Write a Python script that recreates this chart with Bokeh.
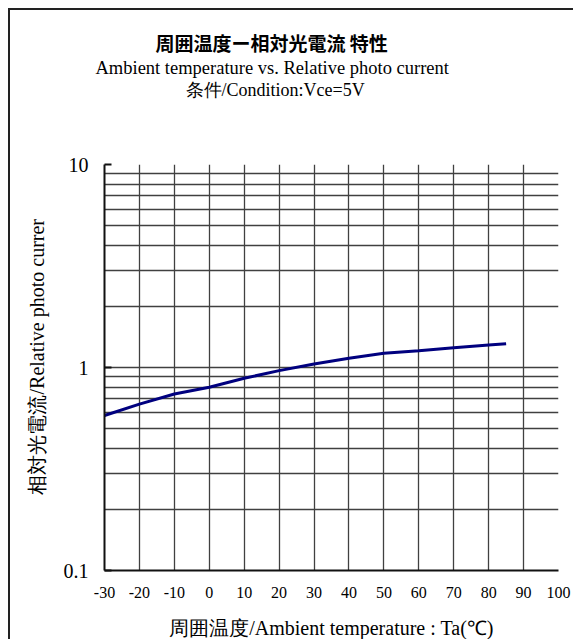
from bokeh.plotting import figure
from bokeh.models import Range1d, FixedTicker, Title
from bokeh.embed import file_html
from bokeh.resources import INLINE

# data
temperature = [-30, -20, -10, 0, 10, 20, 30, 40, 50, 60, 70, 80, 85]
relative_current = [0.58, 0.66, 0.74, 0.80, 0.885, 0.965, 1.04, 1.11, 1.175, 1.21, 1.25, 1.29, 1.31]

x_ticks = [-30, -20, -10, 0, 10, 20, 30, 40, 50, 60, 70, 80, 90, 100]
x_tick_labels = ["-30", "-20", "-10", "0", "10", "20", "30", "40", "50", "60", "70", "80", "90", "100"]
y_ticks = [0.1, 1, 10]
y_tick_labels = ["0.1", "1", "10"]
y_minor = [0.2, 0.3, 0.4, 0.5, 0.6, 0.7, 0.8, 0.9, 2, 3, 4, 5, 6, 7, 8, 9]

title_lines = [
    "周囲温度ー相対光電流 特性",
    "Ambient temperature vs. Relative photo current",
    "条件/Condition:Vce=5V",
]
x_label = "周囲温度/Ambient temperature : Ta(℃)"
y_label = "相対光電流/Relative photo currer"

p = figure(width=565, height=631, output_backend="svg", toolbar_location=None,
           title=None, y_axis_type="log",
           x_range=Range1d(-30, 100), y_range=Range1d(0.1, 10),
           min_border_left=93, min_border_right=17, min_border_top=154, min_border_bottom=70)
p.styles = {"margin-left": "8px", "margin-top": "8px",
            "border-left": "2px solid #222", "border-top": "2px solid #222"}
p.outline_line_color = None
p.background_fill_color = "white"
p.border_fill_color = "white"

p.xaxis.ticker = FixedTicker(ticks=x_ticks)
p.yaxis.ticker = FixedTicker(ticks=y_ticks, minor_ticks=y_minor)
p.xgrid.ticker = FixedTicker(ticks=x_ticks)
p.ygrid.ticker = FixedTicker(ticks=y_ticks, minor_ticks=y_minor)

for g in (p.xgrid, p.ygrid):
    g.grid_line_color = "#404040"
    g.grid_line_width = 1.3
p.ygrid.minor_grid_line_color = "#404040"
p.ygrid.minor_grid_line_width = 1.3

for ax in (p.xaxis, p.yaxis):
    ax.axis_line_color = "#111111"
    ax.axis_line_width = 2
    ax.major_tick_out = 0
    ax.major_tick_in = 0
    ax.minor_tick_out = 0
    ax.minor_tick_in = 0
    ax.major_label_text_font = "Liberation Serif"
    ax.major_label_text_color = "black"
    ax.axis_label_text_font = "Liberation Serif"
    ax.axis_label_text_font_style = "normal"
    ax.axis_label_text_color = "black"
    ax.axis_label_text_font_size = "20px"

p.yaxis.major_tick_in = 7
p.yaxis.major_tick_line_color = "#111111"
p.yaxis.major_tick_line_width = 2

p.xaxis.major_label_text_font_size = "16px"
p.xaxis.major_label_standoff = 16
p.xaxis.axis_label = x_label
p.xaxis.axis_label_standoff = 16
p.xaxis.major_label_overrides = dict(zip(x_ticks, x_tick_labels))

p.yaxis.major_label_text_font_size = "20px"
p.yaxis.major_label_standoff = 16
p.yaxis.major_label_overrides = dict(zip(y_ticks, y_tick_labels))

p.line(temperature, relative_current, line_color="#00007f", line_width=3)

# y axis title, placed as a side title so its start can be set
p.add_layout(Title(text=y_label, align="left", offset=76, standoff=26,
                   text_font="Liberation Serif", text_font_style="normal",
                   text_font_size="20px", text_color="black"), "left")

# title block: spacer closest to the plot, then the three title lines upward
p.add_layout(Title(text=" ", text_font_size="10px", standoff=52), "above")
title_specs = [
    (title_lines[2], "Liberation Serif", "normal", "18px", 81),
    (title_lines[1], "Liberation Serif", "normal", "18.5px", -9),
    (title_lines[0], "Noto Sans CJK JP", "bold", "19px", 51),
]
for txt, font, style, size, off in title_specs:
    p.add_layout(Title(text=txt, align="left", offset=off, standoff=0,
                       text_font=font, text_font_style=style, text_font_size=size,
                       text_color="black"), "above")

open("out.html", "w").write(file_html(p, INLINE))
